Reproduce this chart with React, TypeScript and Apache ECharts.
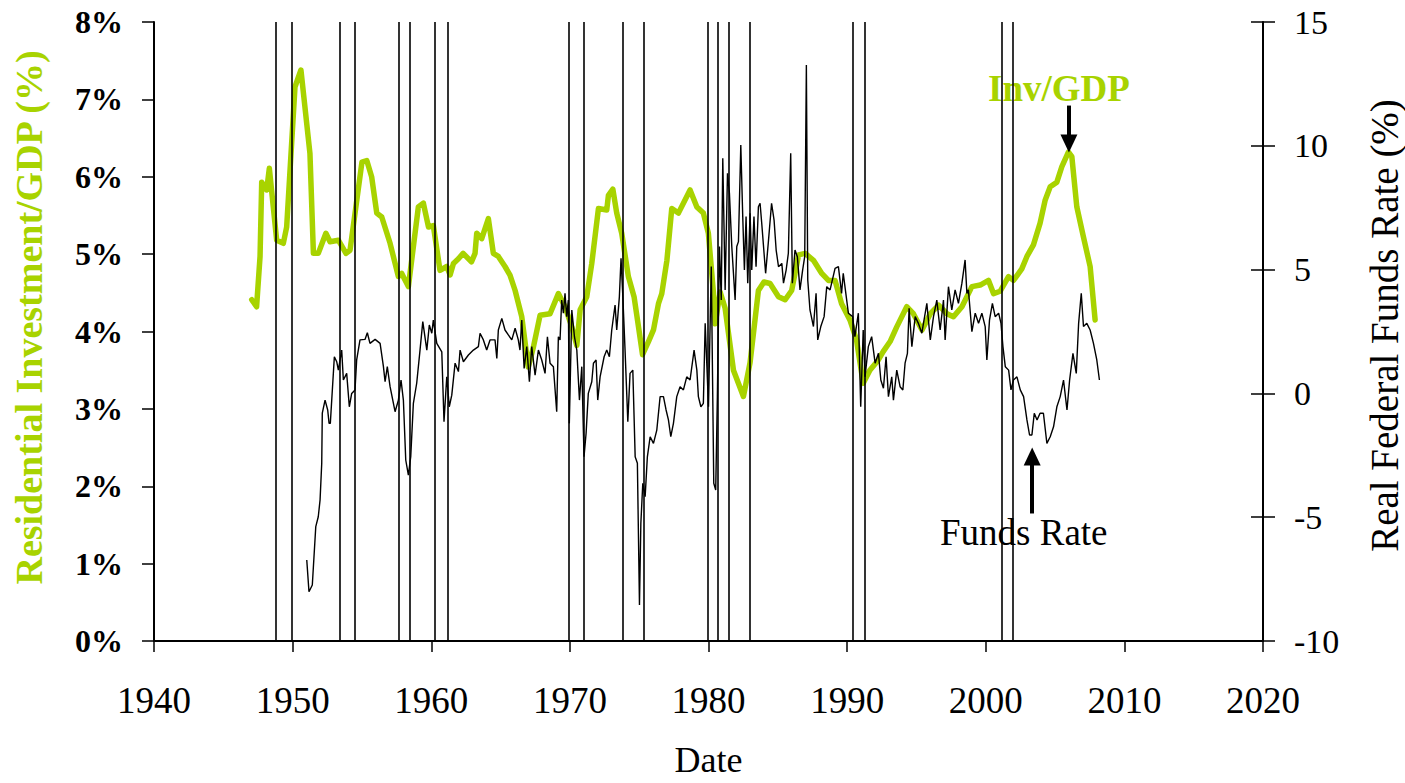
import React, { useEffect, useRef } from "react";
import * as echarts from "echarts";

const invYears = [1947.05, 1947.4, 1947.65, 1947.77, 1948.13, 1948.32, 1948.85, 1949.33, 1949.57, 1950.17, 1950.6, 1951.25, 1951.5, 1951.85, 1952.4, 1952.7, 1953.3, 1953.85, 1954.14, 1955.0, 1955.35, 1955.7, 1956.07, 1956.43, 1957.03, 1957.63, 1957.87, 1958.35, 1959.07, 1959.43, 1959.8, 1960.15, 1960.63, 1961.12, 1961.36, 1961.6, 1961.96, 1962.3, 1962.9, 1963.16, 1963.28, 1963.64, 1964.12, 1964.48, 1964.84, 1965.32, 1965.68, 1966.05, 1966.53, 1967.0, 1967.37, 1967.85, 1968.57, 1969.17, 1969.65, 1970.14, 1970.5, 1970.74, 1971.22, 1971.58, 1972.06, 1972.66, 1972.78, 1973.1, 1973.38, 1973.74, 1974.22, 1974.63, 1974.95, 1975.24, 1975.67, 1976.03, 1976.39, 1976.63, 1977.0, 1977.35, 1977.83, 1978.67, 1979.16, 1979.63, 1979.99, 1980.36, 1980.48, 1980.84, 1981.2, 1981.8, 1982.52, 1983.0, 1983.6, 1984.0, 1984.44, 1985.05, 1985.53, 1986.0, 1986.5, 1986.97, 1987.57, 1988.17, 1988.65, 1989.13, 1989.6, 1990.2, 1990.68, 1991.16, 1991.64, 1992.24, 1992.6, 1993.1, 1993.58, 1994.3, 1994.78, 1995.4, 1996.0, 1996.6, 1997.2, 1997.67, 1998.28, 1999.0, 1999.6, 2000.2, 2000.56, 2001.04, 2001.64, 2002.0, 2002.6, 2002.97, 2003.44, 2003.92, 2004.29, 2004.65, 2005.13, 2005.49, 2005.97, 2006.21, 2006.57, 2007.05, 2007.53, 2007.89];
const invValues = [4.41, 4.32, 4.97, 5.93, 5.83, 6.11, 5.18, 5.14, 5.35, 7.16, 7.38, 6.3, 5.01, 5.01, 5.27, 5.16, 5.18, 5.01, 5.05, 6.19, 6.21, 6.0, 5.53, 5.48, 5.14, 4.71, 4.75, 4.58, 5.61, 5.66, 5.35, 5.37, 4.79, 4.84, 4.73, 4.88, 4.94, 5.01, 4.9, 5.01, 5.27, 5.2, 5.46, 5.01, 4.97, 4.84, 4.73, 4.53, 4.19, 3.54, 3.8, 4.21, 4.23, 4.49, 4.32, 4.06, 3.82, 4.28, 4.45, 4.88, 5.59, 5.57, 5.76, 5.84, 5.53, 5.27, 4.71, 4.45, 4.06, 3.7, 3.87, 4.02, 4.36, 4.49, 4.92, 5.59, 5.53, 5.83, 5.61, 5.53, 5.27, 4.49, 4.1, 4.51, 4.3, 3.5, 3.16, 3.6, 4.53, 4.64, 4.62, 4.45, 4.41, 4.53, 4.99, 5.01, 4.92, 4.75, 4.66, 4.66, 4.36, 4.15, 3.89, 3.33, 3.5, 3.63, 3.74, 3.87, 4.06, 4.32, 4.23, 4.02, 4.23, 4.34, 4.23, 4.19, 4.32, 4.58, 4.6, 4.66, 4.49, 4.52, 4.71, 4.66, 4.81, 4.97, 5.12, 5.4, 5.7, 5.87, 5.93, 6.13, 6.32, 6.26, 5.61, 5.22, 4.84, 4.15];

const ffrYears = [1951.02, 1951.18, 1951.42, 1951.67, 1951.85, 1951.98, 1952.1, 1952.14, 1952.34, 1952.53, 1952.63, 1952.72, 1953.01, 1953.18, 1953.3, 1953.54, 1953.66, 1953.9, 1954.09, 1954.26, 1954.5, 1954.62, 1954.86, 1955.22, 1955.39, 1955.58, 1955.95, 1956.31, 1956.55, 1956.67, 1956.83, 1957.03, 1957.39, 1957.63, 1957.82, 1957.99, 1958.16, 1958.35, 1958.52, 1958.71, 1958.95, 1959.19, 1959.39, 1959.68, 1959.86, 1960.04, 1960.15, 1960.4, 1960.76, 1960.92, 1961.12, 1961.3, 1961.48, 1961.72, 1961.96, 1962.08, 1962.32, 1962.68, 1963.04, 1963.4, 1963.52, 1963.76, 1964.0, 1964.24, 1964.6, 1964.73, 1964.84, 1965.09, 1965.32, 1965.56, 1965.81, 1966.05, 1966.28, 1966.4, 1966.53, 1966.7, 1966.89, 1967.08, 1967.25, 1967.49, 1967.73, 1967.97, 1968.21, 1968.38, 1968.57, 1968.81, 1969.05, 1969.17, 1969.29, 1969.41, 1969.53, 1969.65, 1969.77, 1969.89, 1969.96, 1970.14, 1970.33, 1970.5, 1970.69, 1970.86, 1971.02, 1971.17, 1971.33, 1971.58, 1971.7, 1971.89, 1972.01, 1972.18, 1972.47, 1972.66, 1972.85, 1973.02, 1973.26, 1973.38, 1973.57, 1973.69, 1973.81, 1973.98, 1974.18, 1974.34, 1974.54, 1974.71, 1974.87, 1975.02, 1975.12, 1975.26, 1975.43, 1975.59, 1975.79, 1976.03, 1976.27, 1976.51, 1976.75, 1976.94, 1977.11, 1977.28, 1977.47, 1977.71, 1977.95, 1978.19, 1978.43, 1978.67, 1978.96, 1979.16, 1979.27, 1979.45, 1979.63, 1979.76, 1980.0, 1980.2, 1980.38, 1980.52, 1980.64, 1980.79, 1980.92, 1981.03, 1981.2, 1981.37, 1981.51, 1981.68, 1981.92, 1982.04, 1982.16, 1982.33, 1982.47, 1982.59, 1982.71, 1982.83, 1983.0, 1983.12, 1983.28, 1983.43, 1983.6, 1983.72, 1983.84, 1984.12, 1984.31, 1984.55, 1984.73, 1984.88, 1985.05, 1985.29, 1985.41, 1985.6, 1985.76, 1985.93, 1986.05, 1986.24, 1986.41, 1986.6, 1986.79, 1986.94, 1987.06, 1987.16, 1987.32, 1987.57, 1987.76, 1987.88, 1988.1, 1988.34, 1988.53, 1988.77, 1989.13, 1989.37, 1989.6, 1989.72, 1990.09, 1990.4, 1990.56, 1990.81, 1990.98, 1991.16, 1991.29, 1991.53, 1991.77, 1992.02, 1992.26, 1992.43, 1992.62, 1992.81, 1992.98, 1993.22, 1993.34, 1993.58, 1993.82, 1994.02, 1994.18, 1994.35, 1994.47, 1994.67, 1994.91, 1995.14, 1995.39, 1995.75, 1996.0, 1996.23, 1996.47, 1996.71, 1996.95, 1997.07, 1997.31, 1997.55, 1997.79, 1998.03, 1998.28, 1998.51, 1998.64, 1998.75, 1999.0, 1999.24, 1999.48, 1999.72, 1999.96, 2000.08, 2000.27, 2000.48, 2000.68, 2000.93, 2001.1, 2001.24, 2001.41, 2001.65, 2001.82, 2002.0, 2002.25, 2002.49, 2002.73, 2002.97, 2003.16, 2003.33, 2003.5, 2003.7, 2003.92, 2004.16, 2004.41, 2004.65, 2004.89, 2005.13, 2005.37, 2005.61, 2005.86, 2006.05, 2006.29, 2006.53, 2006.7, 2006.89, 2007.05, 2007.29, 2007.53, 2007.77, 2008.01, 2008.2];
const ffrValues = [-6.73, -8.01, -7.74, -5.38, -4.98, -4.3, -2.82, -0.8, -0.27, -0.67, -1.21, -1.21, 1.48, 1.28, 0.94, 1.75, 0.54, 0.81, -0.54, 0.0, 0.14, 1.35, 2.16, 2.18, 2.45, 2.02, 2.18, 2.02, 1.08, 0.47, 1.08, 0.27, -0.74, -0.27, 0.54, -0.27, -2.69, -3.3, -2.56, -0.4, 0.41, 1.75, 2.9, 1.75, 2.76, 2.43, 2.96, 2.02, 1.68, -1.14, 0.67, -0.54, -0.07, 1.22, 0.88, 1.75, 1.28, 1.55, 1.75, 1.89, 2.43, 2.16, 1.75, 2.16, 2.16, 1.41, 2.56, 3.03, 2.56, 2.36, 2.16, 2.63, 2.16, 1.75, 2.96, 1.01, 1.89, 0.47, 1.89, 0.74, 1.75, 1.35, 0.81, 2.29, 1.22, 1.08, -0.74, 2.29, 2.16, 3.77, 3.24, 4.04, 3.1, 3.77, -1.21, 3.37, 2.29, 1.75, -0.27, 1.08, -2.56, -1.61, 0.0, 0.47, 1.22, 1.35, -0.27, 0.67, 1.48, 1.75, 1.48, 2.56, 3.57, 2.56, 3.9, 5.46, 4.04, 1.75, -1.14, 0.81, 0.94, -2.56, -2.82, -8.55, -5.25, -3.63, -4.17, -2.56, -1.75, -2.02, -1.48, -0.13, -0.13, -0.67, -1.07, -1.75, -1.21, -0.13, 0.27, 0.14, 0.67, 0.54, 1.75, 0.94, -0.13, -0.54, -0.4, 2.83, -0.54, 5.12, -3.63, -3.9, -0.13, 5.93, 3.77, 9.5, 4.18, 8.89, 8.08, 5.93, 3.77, 5.93, 6.13, 10.03, 7.14, 4.98, 7.14, 4.45, 7.27, 4.98, 7.14, 5.12, 7.54, 7.68, 6.87, 4.85, 6.06, 7.68, 7.0, 5.79, 5.12, 5.25, 4.45, 4.98, 5.66, 9.7, 4.45, 5.79, 5.52, 4.18, 4.98, 5.52, 13.26, 4.58, 3.37, 2.7, 4.04, 2.16, 2.7, 3.1, 4.31, 4.18, 5.05, 5.12, 4.04, 4.85, 3.24, 3.1, 2.29, 3.24, -0.54, 2.56, 0.67, 1.89, 2.29, 1.22, 1.62, 0.54, 0.21, 1.48, -0.13, 0.67, -0.27, 0.94, 0.27, 0.14, 1.22, 1.62, 3.44, 1.89, 3.1, 2.83, 2.43, 3.64, 2.16, 3.1, 3.77, 2.56, 3.77, 2.16, 4.31, 3.37, 4.18, 3.64, 4.45, 5.39, 4.04, 4.18, 2.49, 3.24, 2.83, 3.24, 2.7, 1.35, 2.96, 3.64, 3.1, 3.24, 2.83, 1.89, 1.08, 0.94, 0.14, 0.54, 0.67, 0.14, -0.13, -1.07, -1.68, -1.68, -0.8, -1.07, -0.8, -0.8, -2.02, -1.75, -1.35, -0.54, -0.13, 0.54, -0.67, 0.54, 1.62, 0.81, 2.83, 4.04, 2.7, 2.83, 2.56, 2.02, 1.35, 0.54];

const recessionLines = [1948.8, 1949.93, 1953.42, 1954.5, 1957.63, 1958.42, 1960.27, 1961.18, 1969.89, 1971.02, 1973.81, 1975.3, 1979.95, 1980.64, 1981.49, 1983.0, 1990.41, 1991.25, 2001.18, 2001.98];

const invArrow = { year: 2006.0, from: 6.92, to: 6.43 };
const fundsArrow = { year: 2003.35, from: -4.85, to: -2.55 };

const GREEN = "#A8D300";
const FONT = "Liberation Serif";
const W = 1405;
const H = 783;

export default function App() {
  const ref = useRef<HTMLDivElement>(null);
  useEffect(() => {
    if (!ref.current) return;
    const chart = echarts.init(ref.current, null, { renderer: "svg", width: W, height: H });
    const option: any = {
      animation: false,
      backgroundColor: "#ffffff",
      grid: { left: 154, right: 142, top: 22, bottom: 142, containLabel: false, outerBoundsMode: "none" },
      xAxis: {
        type: "value",
        min: 1940,
        max: 2020,
        interval: 10,
        name: "Date",
        nameLocation: "middle",
        nameGap: 101,
        nameTextStyle: { fontFamily: FONT, fontSize: 36, color: "#000" },
        axisLine: { show: true, onZero: false, lineStyle: { color: "#000", width: 2 } },
        axisTick: { show: true, inside: false, length: 11, lineStyle: { color: "#000", width: 1.5 } },
        axisLabel: { fontFamily: FONT, fontSize: 37, color: "#000", margin: 41, formatter: (v: number) => String(v) },
        splitLine: { show: false },
      },
      yAxis: [
        {
          type: "value",
          position: "left",
          min: 0,
          max: 8,
          interval: 1,
          name: "Residential Investment/GDP (%)",
          nameLocation: "middle",
          nameRotate: 90,
          nameGap: 106,
          nameTextStyle: { fontFamily: FONT, fontSize: 38, fontWeight: "bold", color: GREEN, padding: [0, 0, 0, 28] },
          axisLine: { show: true, lineStyle: { color: "#000", width: 2 } },
          axisTick: { show: true, inside: false, length: 12, lineStyle: { color: "#000", width: 1.5 } },
          axisLabel: { fontFamily: FONT, fontSize: 32, fontWeight: "bold", color: "#000", margin: 31, formatter: (v: number) => v + "%" },
          splitLine: { show: false },
        },
        {
          type: "value",
          position: "right",
          min: -10,
          max: 15,
          interval: 5,
          name: "Real Federal Funds Rate (%)",
          nameLocation: "middle",
          nameRotate: 90,
          nameGap: 102,
          nameTextStyle: { fontFamily: FONT, fontSize: 39, color: "#000", padding: [0, 0, 0, 12] },
          axisLine: { show: true, lineStyle: { color: "#000", width: 2 } },
          axisTick: { show: true, inside: false, length: 12, lineStyle: { color: "#000", width: 1.5 } },
          axisLabel: { fontFamily: FONT, fontSize: 34, color: "#000", margin: 31 },
          splitLine: { show: false },
        },
        {
          type: "value",
          position: "right",
          min: -10,
          max: 15,
          interval: 5,
          axisLine: { show: false },
          axisTick: { show: true, inside: true, length: 12, lineStyle: { color: "#000", width: 1.5 } },
          axisLabel: { show: false },
          splitLine: { show: false },
        },
      ],
      series: [
        {
          name: "Inv/GDP",
          type: "line",
          xAxisIndex: 0,
          yAxisIndex: 0,
          data: invYears.map((y, i) => [y, invValues[i]]),
          showSymbol: false,
          lineStyle: { color: GREEN, width: 5.5, join: "round", cap: "round" },
          z: 2,
          markLine: {
            silent: true,
            animation: false,
            label: { show: false },
            lineStyle: { color: "#000", width: 4, type: "solid" },
            data: [
              [
                { coord: [invArrow.year, invArrow.from], symbol: "none" },
                { coord: [invArrow.year, invArrow.to], symbol: "triangle", symbolSize: [17, 18] },
              ],
            ],
          },
        },
        {
          name: "Funds Rate",
          type: "line",
          xAxisIndex: 0,
          yAxisIndex: 1,
          data: ffrYears.map((y, i) => [y, ffrValues[i]]),
          showSymbol: false,
          lineStyle: { color: "#000", width: 1.4 },
          z: 3,
          markLine: {
            silent: true,
            animation: false,
            symbol: ["none", "none"],
            label: { show: false },
            lineStyle: { color: "#000", width: 1.6, type: "solid" },
            data: [
              ...recessionLines.map((d) => ({ xAxis: d })),
              [
                { coord: [fundsArrow.year, fundsArrow.from], symbol: "none", lineStyle: { width: 4 } },
                { coord: [fundsArrow.year, fundsArrow.to], symbol: "triangle", symbolSize: [17, 18], lineStyle: { width: 4 } },
              ],
            ],
          },
        },
      ],
      graphic: [
        {
          type: "text",
          left: 988,
          top: 70,
          style: { text: "Inv/GDP", fill: GREEN, font: `bold 37px "${FONT}"` },
        },
        {
          type: "text",
          left: 940,
          top: 514,
          style: { text: "Funds Rate", fill: "#000", font: `37px "${FONT}"` },
        },
      ],
    };
    chart.setOption(option);
    return () => chart.dispose();
  }, []);
  return <div ref={ref} style={{ position: "absolute", left: 0, top: 0, width: W, height: H }} />;
}
